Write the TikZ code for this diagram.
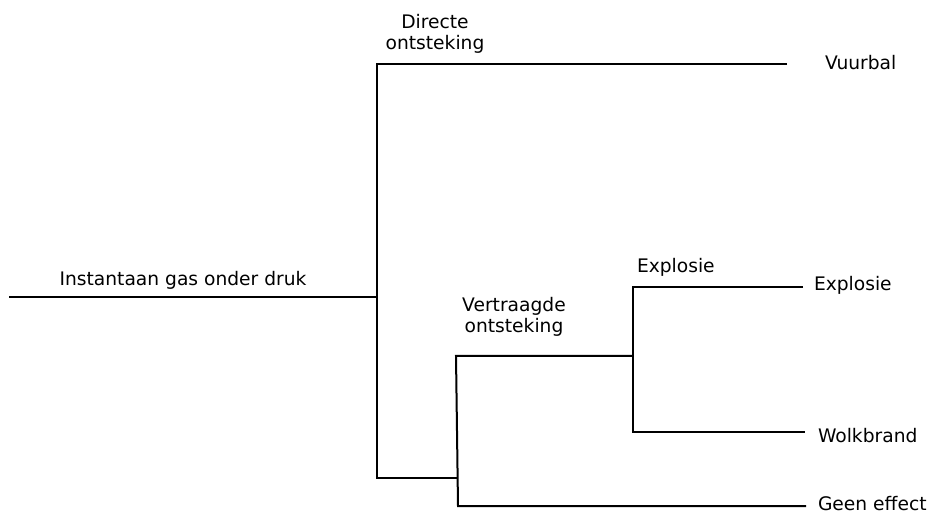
\documentclass[tikz,border=0pt]{standalone}
\usepackage{fontspec}
\setmainfont{DejaVu Sans}

\begin{document}
\begin{tikzpicture}[x=0.75pt, y=-0.75pt, line width=1.5pt, line join=miter,
    lbl/.style={inner sep=0pt, font=\fontsize{14}{15.75}\selectfont},
    twolbl/.style={lbl, align=center, anchor=south}]
    \useasboundingbox (0,0) rectangle (929,513);

    \coordinate (S) at (9,297);
    \coordinate (K1) at (377,297);
    \coordinate (K1a) at (377,64);
    \coordinate (K1b) at (377,478);
    \coordinate (K2) at (457,478);
    \coordinate (K2a) at (456,356);
    \coordinate (K2b) at (458,506);
    \coordinate (K3) at (633,356);
    \coordinate (K3a) at (633,287);
    \coordinate (K3b) at (633,432);
    \coordinate (E1) at (787,64);
    \coordinate (E2) at (803,287);
    \coordinate (E3) at (805,432);
    \coordinate (E4) at (806,506);

    \node[lbl, anchor=base] (gas) at (183,286) {Instantaan gas onder druk};
    \node[twolbl] (direct) at (435,54) {Directe\\ontsteking};
    \node[twolbl] (vertr) at (514,337) {Vertraagde\\ontsteking};
    \node[lbl, anchor=base west] (expl) at (636,273) {Explosie};

    \node[lbl, anchor=base west] (vuurbal) at (824,70) {Vuurbal};
    \node[lbl, anchor=base west] (explosie) at (813,291) {Explosie};
    \node[lbl, anchor=base west] (wolk) at (817,442) {Wolkbrand};
    \node[lbl, anchor=base west] (geen) at (817,510) {Geen effect};

    \draw (S) -- (K1);
    \draw (E1) -- (K1a) -- (K1b) -- (K2);
    \draw (K3) -- (K2a) -- (K2b) -- (E4);
    \draw (E2) -- (K3a) -- (K3b) -- (E3);

\end{tikzpicture}
\end{document}
